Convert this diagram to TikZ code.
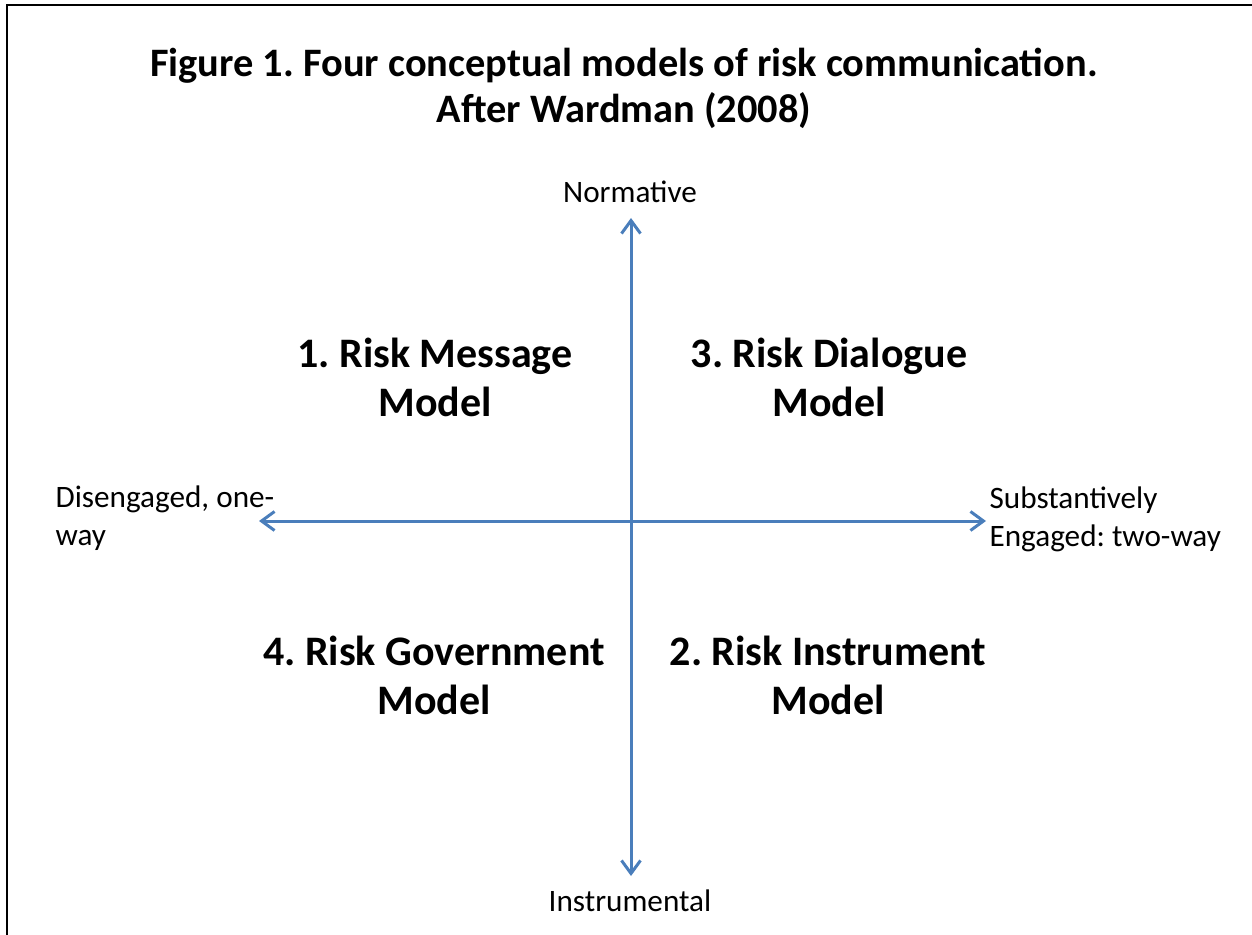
\documentclass[tikz,border=0pt]{standalone}
\usepackage{fontspec}
\setmainfont{Carlito}
\usetikzlibrary{arrows.meta}
\usetikzlibrary{positioning}
\frenchspacing

\definecolor{axisblue}{RGB}{74,126,187}

\begin{document}
\begin{tikzpicture}[x=0.5pt,y=-0.5pt,>={Straight Barb[length=6.5pt,width=9.5pt]},
					semithick]
					\tikzstyle{axis}=[<->,draw=axisblue,line width=1.5pt]
					\tikzstyle{quad}=[align=center,anchor=base,inner sep=0pt,
						font=\fontsize{21}{24.5}\selectfont\bfseries]
					\tikzstyle{pole}=[align=left,inner sep=0pt,
						font=\fontsize{15.6}{19}\selectfont]
					
					\useasboundingbox (0,0) rectangle (1252,935);
					\draw[line width=1.4pt] (7,935) -- (7,5) -- (1252,5);
					
					% base anchor sits on the last line
					\node[align=center,anchor=base,inner sep=0pt,
						font=\fontsize{20.2}{23}\selectfont\bfseries]
						(title) at (624,123) {Figure 1. Four conceptual models of risk communication.\\After Wardman (2008)};
					
					\node[pole,anchor=base]      (norm)  at (630,203) {Normative};
					\node[pole,anchor=base]      (instr) at (630,911) {Instrumental};
					\node[pole,anchor=base west] (dis)   at (55,545)  {Disengaged, one-\\way};
					\node[pole,anchor=base west] (sub)   at (989,546) {Substantively\\Engaged: two-way};
					
					\node[quad] (Q_1) at (435,416) {1. Risk Message\\Model};
					\node[quad] (Q_3) at (829,416) {3. Risk Dialogue\\Model};
					\node[quad] (Q_4) at (434,714) {4. Risk Government\\Model};
					\node[quad] (Q_2) at (828,714) {2. Risk Instrument\\Model};
					
					\coordinate (up)    at (631,218);
					\coordinate (down)  at (631,876);
					\coordinate (west)  at (259,521);
					\coordinate (east)  at (986,521);
					
					\draw[axis] (down) -- (up);
					\draw[axis] (west) -- (east);
\end{tikzpicture}
\end{document}
